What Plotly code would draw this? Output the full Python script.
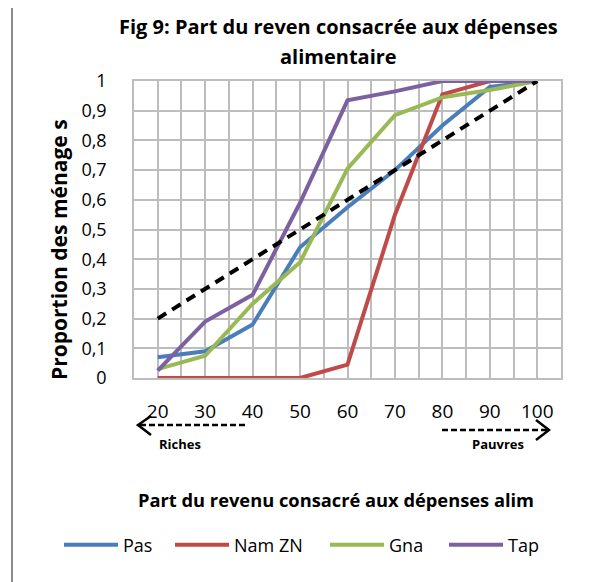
import plotly.graph_objects as go

# ---- data ----
x_vals = [20, 30, 40, 50, 60, 70, 80, 90, 100]
x_tick_labels = ["20", "30", "40", "50", "60", "70", "80", "90", "100"]
pas = [0.07, 0.09, 0.18, 0.44, 0.575, 0.70, 0.85, 0.98, 1.0]
nam_zn = [0.0, 0.0, 0.0, 0.0, 0.045, 0.55, 0.955, 1.0, 1.0]
gna = [0.03, 0.075, 0.25, 0.39, 0.705, 0.885, 0.945, 0.97, 1.0]
tap = [0.025, 0.19, 0.28, 0.59, 0.935, 0.965, 1.0, 1.0, 1.0]
reference = [0.2, 0.3, 0.4, 0.5, 0.6, 0.7, 0.8, 0.9, 1.0]
y_tick_vals = [0, 0.1, 0.2, 0.3, 0.4, 0.5, 0.6, 0.7, 0.8, 0.9, 1.0]
y_tick_labels = ["0", "0,1", "0,2", "0,3", "0,4", "0,5", "0,6", "0,7", "0,8", "0,9", "1"]
series_names = ["Pas", "Nam ZN", "Gna", "Tap"]
series_colors = ["#4A7EBB", "#BE4B48", "#98B954", "#7D60A0"]

OFF = 8  # default page body margin
W, H = 615 - OFF, 582 - OFF
L, R, T, B = 134, 561, 81, 378  # plot area in window pixels


def px(x):
    return (x - L) / (R - L)


def py(y):
    return (B - y) / (B - T)


FONT = "Open Sans"
fig = go.Figure()
legend_ids = ["legend", "legend2", "legend3", "legend4"]
legend_starts = [66, 177, 332, 451]
for name, vals, col, lid in zip(series_names, [pas, nam_zn, gna, tap], series_colors, legend_ids):
    fig.add_trace(go.Scatter(x=x_vals, y=vals, mode="lines", name=name, legend=lid,
                             line=dict(color=col, width=4)))
fig.add_trace(go.Scatter(x=x_vals, y=reference, mode="lines", showlegend=False,
                         line=dict(color="black", width=4, dash="10px,7px")))

grid = "#BDBDBD"
fig.update_xaxes(range=[15, 105], tickvals=x_vals, ticktext=x_tick_labels,
                 showgrid=True, gridcolor=grid, gridwidth=1.5,
                 minor=dict(tickvals=[15, 25, 35, 45, 55, 65, 75, 85, 95, 105],
                            showgrid=True, gridcolor=grid, gridwidth=1.5),
                 showline=True, linecolor=grid, linewidth=1.5, mirror=True,
                 zeroline=False, ticks="", ticklabelstandoff=15,
                 tickfont=dict(family=FONT, size=19, color="black"))
fig.update_yaxes(range=[0, 1], tickvals=y_tick_vals, ticktext=y_tick_labels,
                 showgrid=True, gridcolor=grid, gridwidth=1.5,
                 showline=True, linecolor=grid, linewidth=1.5, mirror=True,
                 zeroline=False, ticks="", ticklabelstandoff=22,
                 tickfont=dict(family=FONT, size=18, color="black"))

annotations = [
    dict(text="<b>Fig 9: Part du reven consacrée aux dépenses</b>", x=px(338), y=py(27), size=20),
    dict(text="<b>alimentaire</b>", x=px(338), y=py(57), size=20),
    dict(text="<b>Proportion des ménage s</b>", x=px(59), y=py(250), textangle=-90, size=21),
    dict(text="<b>Part du revenu consacré aux dépenses alim</b>", x=px(336), y=py(499), size=18.3),
    dict(text="<b>Riches</b>", x=px(180), y=py(444), size=13),
    dict(text="<b>Pauvres</b>", x=px(498), y=py(444), size=13),
]
for a in annotations:
    s = a.pop("size")
    a.update(xref="paper", yref="paper", showarrow=False, xanchor="center", yanchor="middle",
             font=dict(family=FONT, size=s, color="black"))

shapes = [
    dict(type="rect", xref="paper", yref="paper", x0=px(12), x1=px(611), y0=py(600), y1=py(5),
         line=dict(color="#8C8C8C", width=2), layer="below"),
    dict(type="line", xref="paper", yref="paper", x0=px(140), x1=px(248), y0=py(425), y1=py(425),
         line=dict(color="black", width=2.5, dash="6px,3px")),
    dict(type="path", xref="paper", yref="paper",
         path=f"M {px(151)},{py(416)} L {px(138)},{py(425)} L {px(151)},{py(435)}",
         line=dict(color="black", width=2.5)),
    dict(type="line", xref="paper", yref="paper", x0=px(442), x1=px(547), y0=py(430), y1=py(430),
         line=dict(color="black", width=2.5, dash="6px,3px")),
    dict(type="path", xref="paper", yref="paper",
         path=f"M {px(536)},{py(420)} L {px(549)},{py(430)} L {px(536)},{py(440)}",
         line=dict(color="black", width=2.5)),
]

layout_legends = {}
for lid, xs in zip(legend_ids, legend_starts):
    layout_legends[lid] = dict(orientation="h", x=px(xs - 7), xanchor="left",
                               y=py(545), yanchor="middle",
                               font=dict(family=FONT, size=18, color="black"), itemwidth=54,
                               bgcolor="rgba(0,0,0,0)")

fig.update_layout(
    width=W, height=H,
    margin=dict(l=L - OFF, r=W - (R - OFF), t=T - OFF, b=H - (B - OFF)),
    paper_bgcolor="white", plot_bgcolor="white",
    annotations=annotations, shapes=shapes,
    **layout_legends,
)

fig.write_html("out.html")
